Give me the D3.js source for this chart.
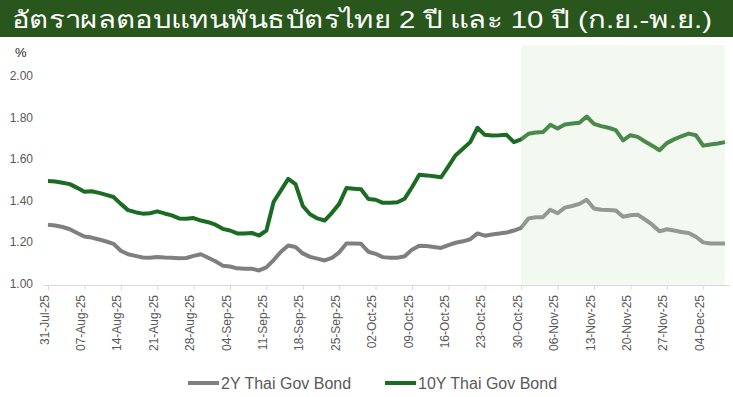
<!DOCTYPE html>
<html>
<head>
<meta charset="utf-8">
<script src="https://cdn.jsdelivr.net/npm/d3@7"></script>
<style>
  body { margin: 0; background: #fff; }
  #chart text { font-family: "Liberation Sans", Arial, sans-serif; }
</style>
</head>
<body>
<div id="chart"></div>
<script>
const title = "อัตราผลตอบแทนพันธบัตรไทย 2 ปี และ 10 ปี (ก.ย.-พ.ย.)";
const seriesNames = ["2Y Thai Gov Bond", "10Y Thai Gov Bond"];
const yTicks = [1.0, 1.2, 1.4, 1.6, 1.8, 2.0];
const tickLabels = ["31-Jul-25", "07-Aug-25", "14-Aug-25", "21-Aug-25", "28-Aug-25", "04-Sep-25",
  "11-Sep-25", "18-Sep-25", "25-Sep-25", "02-Oct-25", "09-Oct-25", "16-Oct-25", "23-Oct-25",
  "30-Oct-25", "06-Nov-25", "13-Nov-25", "20-Nov-25", "27-Nov-25", "04-Dec-25"];

// one value per trading day, 31-Jul-25 .. 09-Dec-25
const bond2y = [1.29, 1.286, 1.279, 1.268, 1.25, 1.233, 1.228, 1.219, 1.209, 1.198,
  1.165, 1.148, 1.14, 1.132, 1.131, 1.135, 1.132, 1.131, 1.129, 1.13,
  1.14, 1.148, 1.131, 1.114, 1.093, 1.089, 1.08, 1.078, 1.078, 1.07,
  1.085, 1.12, 1.16, 1.19, 1.183, 1.152, 1.135, 1.127, 1.118, 1.13,
  1.157, 1.20, 1.20, 1.198, 1.16, 1.15, 1.134, 1.131, 1.131, 1.138,
  1.17, 1.189, 1.187, 1.183, 1.178, 1.192, 1.203, 1.21, 1.22, 1.248,
  1.237, 1.243, 1.248, 1.252, 1.262, 1.275, 1.32, 1.326, 1.326, 1.362,
  1.345, 1.372, 1.38, 1.39, 1.41, 1.368, 1.362, 1.36, 1.358, 1.328,
  1.335, 1.338, 1.315, 1.29, 1.258, 1.268, 1.262, 1.255, 1.25, 1.232,
  1.205, 1.20, 1.20, 1.20];
const bond10y = [1.50, 1.498, 1.492, 1.485, 1.467, 1.448, 1.451, 1.443, 1.433, 1.423,
  1.39, 1.36, 1.35, 1.343, 1.345, 1.354, 1.344, 1.335, 1.32, 1.318,
  1.322, 1.31, 1.302, 1.29, 1.27, 1.262, 1.248, 1.248, 1.25, 1.238,
  1.262, 1.40, 1.455, 1.51, 1.485, 1.38, 1.34, 1.32, 1.31, 1.347,
  1.39, 1.466, 1.463, 1.46, 1.414, 1.41, 1.395, 1.395, 1.398, 1.415,
  1.47, 1.53, 1.527, 1.523, 1.518, 1.57, 1.624, 1.655, 1.687, 1.756,
  1.722, 1.719, 1.72, 1.722, 1.687, 1.70, 1.727, 1.733, 1.735, 1.77,
  1.752, 1.772, 1.776, 1.78, 1.81, 1.775, 1.764, 1.756, 1.745, 1.695,
  1.72, 1.712, 1.69, 1.67, 1.648, 1.682, 1.70, 1.715, 1.728, 1.72,
  1.67, 1.675, 1.68, 1.687];

const shadeFrom = "30-Oct-25";

const w = 733, h = 397;
const fmt = d3.timeFormat("%d-%b-%y");
const days = d3.timeDay.range(new Date(2025, 6, 31), new Date(2025, 11, 10))
  .filter(d => d.getDay() !== 0 && d.getDay() !== 6)
  .map(fmt);

const x = d3.scalePoint().domain(days).range([48, 725]);
const y = d3.scaleLinear().domain([1, 2]).range([285, 77]);

const svg = d3.select("#chart").append("svg")
  .attr("width", w)
  .attr("height", h);

// title bar
svg.append("rect").attr("x", 0).attr("y", 0).attr("width", w).attr("height", 37)
  .attr("fill", "#28561c");
svg.append("text")
  .attr("x", 12).attr("y", 28)
  .attr("fill", "#fff")
  .attr("textLength", 700)
  .attr("lengthAdjust", "spacingAndGlyphs")
  .style("font-size", "24px")
  .text(title);

svg.append("text")
  .attr("x", 15).attr("y", 57)
  .attr("fill", "#222")
  .style("font-size", "13px")
  .text("%");

// y labels
svg.selectAll(".ylab")
  .data(yTicks)
  .enter()
  .append("text")
  .attr("class", "ylab")
  .attr("x", 33)
  .attr("y", d => y(d) + 3)
  .attr("text-anchor", "end")
  .attr("fill", "#595959")
  .style("font-size", "12px")
  .text(d => d.toFixed(2));

// x axis
const xAxis = d3.axisBottom(x)
  .tickValues(tickLabels)
  .tickSize(5)
  .tickSizeOuter(0);

const gx = svg.append("g")
  .attr("transform", `translate(0, ${y(1)})`)
  .call(xAxis);
gx.select(".domain").attr("stroke", "#d9d9d9").attr("d", "M44,0.5H730");
gx.selectAll(".tick line").attr("stroke", "#d9d9d9");
gx.selectAll(".tick text")
  .attr("fill", "#595959")
  .style("font-size", "12px")
  .attr("transform", "rotate(-90)")
  .attr("text-anchor", "end")
  .attr("x", -10)
  .attr("y", -4)
  .attr("dy", "0.35em");

// lines
const line = d3.line()
  .x((d, i) => x(days[i]))
  .y(d => y(d));

svg.append("path")
  .datum(bond2y)
  .attr("fill", "none")
  .attr("stroke", "#7f7f7f")
  .attr("stroke-width", 4)
  .attr("stroke-linejoin", "round")
  .attr("d", line);

svg.append("path")
  .datum(bond10y)
  .attr("fill", "none")
  .attr("stroke", "#1c6b22")
  .attr("stroke-width", 4)
  .attr("stroke-linejoin", "round")
  .attr("d", line);

// highlight box (drawn over the lines)
svg.append("rect")
  .attr("x", x(shadeFrom))
  .attr("y", 45)
  .attr("width", x(days[days.length - 1]) - x(shadeFrom))
  .attr("height", y(1) - 45)
  .attr("fill", "rgb(207,231,199)")
  .attr("opacity", 0.25);

// legend
const legend = svg.append("g");
const legendX = [188, 385];
seriesNames.forEach((name, i) => {
  legend.append("line")
    .attr("x1", legendX[i]).attr("x2", legendX[i] + 31)
    .attr("y1", 383).attr("y2", 383)
    .attr("stroke", i === 0 ? "#7f7f7f" : "#1c6b22")
    .attr("stroke-width", 4);
  legend.append("text")
    .attr("x", legendX[i] + 33).attr("y", 389)
    .attr("fill", "#595959")
    .style("font-size", "16px")
    .text(name);
});
</script>
</body>
</html>
